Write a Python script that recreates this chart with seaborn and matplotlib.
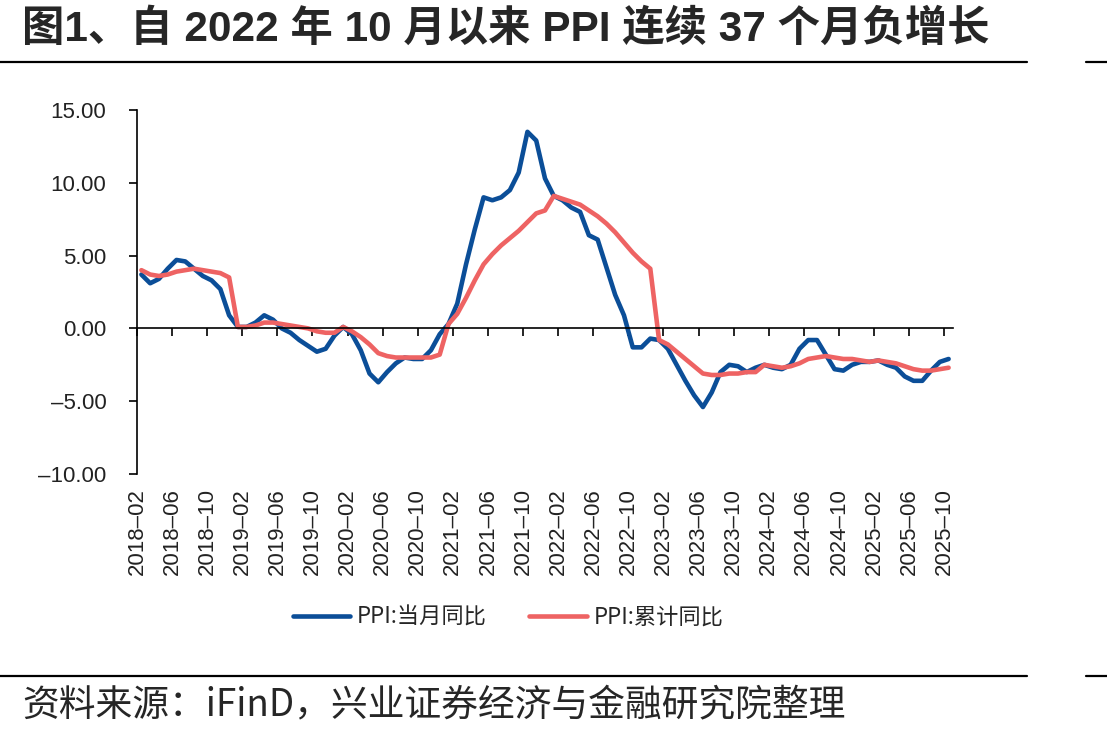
import pandas as pd
import matplotlib
matplotlib.use("Agg")
import matplotlib.pyplot as plt
from matplotlib.lines import Line2D
import seaborn as sns

# monthly series, 2018-02 .. 2025-10
months = pd.date_range("2018-02-01", "2025-10-01", freq="MS").strftime("%Y-%m").tolist()

ppi_yoy = [
    3.7, 3.1, 3.4, 4.1, 4.7, 4.6, 4.1, 3.6, 3.3, 2.7, 0.9,
    0.1, 0.1, 0.4, 0.9, 0.6, 0.0, -0.3, -0.8, -1.2, -1.6, -1.4, -0.5,
    0.1, -0.4, -1.5, -3.1, -3.7, -3.0, -2.4, -2.0, -2.1, -2.1, -1.5, -0.4,
    0.3, 1.7, 4.4, 6.8, 9.0, 8.8, 9.0, 9.5, 10.7, 13.5, 12.9, 10.3,
    9.1, 8.8, 8.3, 8.0, 6.4, 6.1, 4.2, 2.3, 0.9, -1.3, -1.3, -0.7,
    -0.8, -1.4, -2.5, -3.6, -4.6, -5.4, -4.4, -3.0, -2.5, -2.6, -3.0, -2.7,
    -2.5, -2.7, -2.8, -2.5, -1.4, -0.8, -0.8, -1.8, -2.8, -2.9, -2.5, -2.3,
    -2.3, -2.2, -2.5, -2.7, -3.3, -3.6, -3.6, -2.9, -2.3, -2.1,
]
ppi_ytd = [
    4.0, 3.7, 3.6, 3.7, 3.9, 4.0, 4.1, 4.0, 3.9, 3.8, 3.5,
    0.1, 0.1, 0.2, 0.4, 0.4, 0.3, 0.2, 0.1, 0.0, -0.2, -0.3, -0.3,
    0.1, -0.2, -0.6, -1.1, -1.7, -1.9, -2.0, -2.0, -2.0, -2.0, -2.0, -1.8,
    0.3, 1.0, 2.1, 3.3, 4.4, 5.1, 5.7, 6.2, 6.7, 7.3, 7.9, 8.1,
    9.1, 8.9, 8.7, 8.5, 8.1, 7.7, 7.2, 6.6, 5.9, 5.2, 4.6, 4.1,
    -0.8, -1.1, -1.6, -2.1, -2.6, -3.1, -3.2, -3.2, -3.1, -3.1, -3.0, -3.0,
    -2.5, -2.6, -2.7, -2.6, -2.4, -2.1, -2.0, -1.9, -2.0, -2.1, -2.1, -2.2,
    -2.3, -2.2, -2.3, -2.4, -2.6, -2.8, -2.9, -2.9, -2.8, -2.7,
]
series_names = ["PPI:当月同比", "PPI:累计同比"]
y_ticks = [-10, -5, 0, 5, 10, 15]

title = "图1、自 2022 年 10 月以来 PPI 连续 37 个月负增长"
source = "资料来源：iFinD，兴业证券经济与金融研究院整理"

df = pd.DataFrame({
    "idx": list(range(len(months))) * 2,
    "value": ppi_yoy + ppi_ytd,
    "series": [series_names[0]] * len(months) + [series_names[1]] * len(months),
})

sns.set_style("white")
plt.rcParams["font.family"] = ["Liberation Sans", "Noto Sans CJK SC", "DejaVu Sans"]

colors = {series_names[0]: "#0B4E98", series_names[1]: "#EE6363"}

fig = plt.figure(figsize=(11.07, 7.37), dpi=100)
ax = fig.add_axes([137 / 1107, 1 - 474 / 737, 816 / 1107, 364 / 737])

sns.lineplot(data=df, x="idx", y="value", hue="series", palette=colors,
             linewidth=3.3, ax=ax, legend=False)

ax.set_xlim(-0.5, len(months) - 0.5)
ax.set_ylim(-10, 15)
ax.set_xlabel("")
ax.set_ylabel("")

for s in ["top", "right"]:
    ax.spines[s].set_visible(False)
ax.spines["left"].set_color("black")
ax.spines["left"].set_linewidth(1.2)
ax.spines["bottom"].set_position(("data", 0))
ax.spines["bottom"].set_color("black")
ax.spines["bottom"].set_linewidth(1.2)

tick_pos = [i - 0.5 for i in range(0, len(months), 4)]
tick_lab = [months[i].replace("-", "–") for i in range(0, len(months), 4)]

ax.set_xticks(tick_pos)
ax.set_xticklabels([])
ax.tick_params(axis="x", direction="out", length=6, width=1.2, color="black", bottom=True)

ax.set_yticks(y_ticks)
ax.set_yticklabels([f"{v:.2f}".replace("-", "–") for v in y_ticks],
                   fontsize=16, color="#222222")
ax.tick_params(axis="y", direction="out", length=6, width=1.2, color="black",
               left=True, pad=16)

sec = ax.secondary_xaxis(0.0)
sec.set_xticks(tick_pos)
sec.set_xticklabels(tick_lab, rotation=90, fontsize=16, color="#222222")
sec.tick_params(length=0, pad=10)
sec.spines["bottom"].set_visible(False)

handles = [Line2D([], [], color=colors[n], linewidth=3.3) for n in series_names]
fig.legend(handles, series_names, loc="center", bbox_to_anchor=(508 / 1107, 1 - 617 / 737),
           ncol=2, frameon=False, handlelength=2.6, columnspacing=1.9, handletextpad=0.3,
           prop={"family": ["Noto Sans CJK SC"], "size": 16})

# title, rules and source line
fig.text(22 / 1107, 1 - 30 / 737, title, fontsize=30.5, fontweight="bold",
         va="center", ha="left")
for yy in [62, 676]:
    fig.add_artist(Line2D([0, 1027 / 1107], [1 - yy / 737] * 2, color="black", linewidth=1.6))
    fig.add_artist(Line2D([1086 / 1107, 1], [1 - yy / 737] * 2, color="black", linewidth=1.6))
fig.text(22 / 1107, 1 - 705 / 737, source, fontsize=26.5, va="center", ha="left",
         family=["Noto Sans CJK SC"])

fig.savefig("out.png", dpi=100)
